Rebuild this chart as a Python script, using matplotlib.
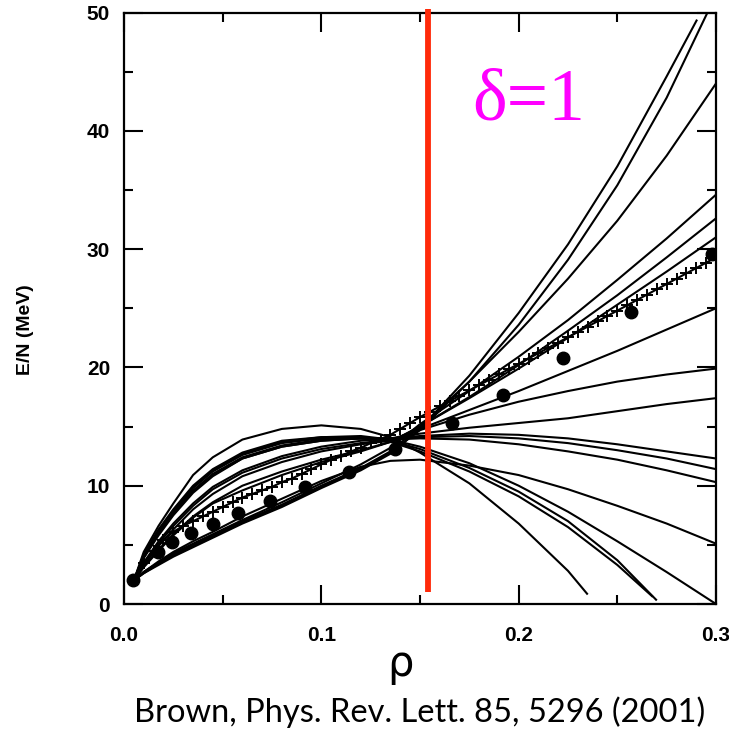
import matplotlib
matplotlib.use('Agg')
import matplotlib.pyplot as plt
import numpy as np

# density grid used for reading the Skyrme curves off the figure
rho_grid = [0.005, 0.01, 0.0175, 0.025, 0.035, 0.045, 0.06, 0.08, 0.10, 0.12,
            0.135, 0.15, 0.175, 0.2, 0.225, 0.25, 0.275, 0.3]
nan = np.nan

# E/N (MeV) of each curve on rho_grid, nan where the curve has already ended
curve_A = [2.0, 2.6, 3.3, 4.0, 4.8, 5.6, 6.8, 8.2, 9.8, 11.3, 12.7, 14.8, 19.3, 24.6, 30.4, 37.0, 44.6, nan]
curve_B = [2.0, 2.6, 3.4, 4.1, 4.9, 5.7, 6.9, 8.3, 9.9, 11.4, 12.8, 14.7, 18.8, 23.6, 29.1, 35.4, 42.8, 51.5]
curve_C = [2.0, 2.7, 3.5, 4.2, 5.0, 5.8, 7.0, 8.4, 10.0, 11.5, 12.9, 15.0, 18.8, 23.0, 27.5, 32.4, 37.9, 44.0]
curve_D = [2.0, 2.7, 3.5, 4.3, 5.1, 5.9, 7.1, 8.6, 10.2, 11.8, 13.2, 15.2, 18.0, 20.9, 24.0, 27.4, 30.9, 34.6]
curve_E = [2.0, 3.1, 4.5, 5.8, 7.3, 8.5, 9.6, 10.9, 12.0, 12.9, 13.7, 15.0, 17.5, 20.2, 23.1, 26.1, 29.3, 32.6]
curve_F = [2.0, 3.2, 4.6, 5.9, 7.4, 8.6, 10.0, 11.2, 12.2, 13.0, 13.7, 15.0, 17.4, 19.9, 22.5, 25.3, 28.1, 31.0]
curve_G = [2.0, 3.3, 4.9, 6.3, 8.0, 9.3, 10.8, 12.0, 12.9, 13.5, 13.8, 14.8, 16.4, 18.0, 19.7, 21.4, 23.2, 25.0]
curve_H = [2.0, 3.4, 5.1, 6.6, 8.3, 9.7, 11.1, 12.3, 13.1, 13.6, 13.9, 14.7, 16.0, 17.1, 18.0, 18.8, 19.4, 19.9]
curve_I = [2.0, 3.5, 5.3, 6.8, 8.5, 9.9, 11.3, 12.5, 13.3, 13.8, 14.0, 14.4, 14.9, 15.3, 15.7, 16.3, 16.9, 17.4]
curve_J = [2.0, 3.9, 5.9, 7.6, 9.5, 10.9, 12.3, 13.3, 13.8, 14.0, 14.0, 14.2, 14.4, 14.3, 14.0, 13.5, 12.9, 12.3]
curve_K = [2.0, 4.0, 6.0, 7.7, 9.6, 11.0, 12.4, 13.4, 13.9, 14.0, 14.0, 14.1, 14.2, 14.0, 13.6, 13.0, 12.3, 11.4]
curve_L = [2.0, 3.9, 5.8, 7.5, 9.4, 10.8, 12.3, 13.3, 13.8, 14.0, 13.9, 14.0, 13.9, 13.5, 12.9, 12.2, 11.3, 10.3]
curve_M = [2.0, 2.7, 3.6, 4.4, 5.3, 6.1, 7.4, 8.9, 10.4, 11.6, 12.1, 12.2, 11.7, 10.9, 9.7, 8.3, 6.8, 5.1]
curve_N = [2.0, 4.1, 6.2, 7.9, 9.9, 11.3, 12.7, 13.7, 14.1, 14.2, 13.9, 13.3, 11.9, 10.0, 7.8, 5.3, 2.7, 0.0]
curve_O = [2.0, 4.2, 6.3, 8.0, 10.0, 11.4, 12.8, 13.8, 14.1, 14.1, 13.8, 13.1, 11.5, 9.5, 7.0, 3.7, nan, nan]
curve_P = [2.0, 4.1, 6.1, 7.8, 9.8, 11.2, 12.6, 13.6, 14.0, 14.0, 13.7, 12.9, 11.2, 9.1, 6.5, 3.3, nan, nan]
curve_Q = [2.0, 4.4, 6.6, 8.5, 10.9, 12.4, 13.9, 14.8, 15.1, 14.8, 14.1, 12.8, 10.2, 6.8, 2.8, nan, nan, nan]

# last point of the curves that stop before rho = 0.3
ends = {'A': (0.2904, 49.4), 'O': (0.270, 0.3), 'P': (0.268, 0.6), 'Q': (0.235, 0.8)}

curves = {'A': curve_A, 'B': curve_B, 'C': curve_C, 'D': curve_D, 'E': curve_E,
          'F': curve_F, 'G': curve_G, 'H': curve_H, 'I': curve_I, 'J': curve_J,
          'K': curve_K, 'L': curve_L, 'M': curve_M, 'N': curve_N, 'O': curve_O,
          'P': curve_P, 'Q': curve_Q}

# line with crosses
cross_rho = [0.005, 0.01, 0.015, 0.02, 0.025, 0.03, 0.035, 0.04, 0.045, 0.05,
             0.055, 0.06, 0.065, 0.07, 0.075, 0.08, 0.085, 0.09, 0.095, 0.10,
             0.105, 0.11, 0.115, 0.12, 0.125, 0.13, 0.135, 0.14, 0.145, 0.15,
             0.155, 0.16, 0.165, 0.17, 0.175, 0.18, 0.185, 0.19, 0.195, 0.20,
             0.205, 0.21, 0.215, 0.22, 0.225, 0.23, 0.235, 0.24, 0.245, 0.25,
             0.255, 0.26, 0.265, 0.27, 0.275, 0.28, 0.285, 0.29, 0.295, 0.30]
cross_E = [2.0, 3.5, 4.5, 5.4, 6.1, 6.6, 7.0, 7.4, 7.8, 8.2,
           8.6, 9.0, 9.3, 9.6, 9.9, 10.3, 10.6, 11.0, 11.4, 11.8,
           12.2, 12.5, 12.9, 13.2, 13.6, 13.9, 14.3, 14.8, 15.3, 15.8,
           16.25, 16.7, 17.15, 17.6, 18.05, 18.5, 18.95, 19.4, 19.85, 20.3,
           20.75, 21.2, 21.65, 22.1, 22.55, 23.0, 23.45, 23.9, 24.35, 24.8,
           25.25, 25.7, 26.15, 26.6, 27.05, 27.5, 27.95, 28.4, 28.85, 29.3]

# filled dots
dot_rho = [0.0044, 0.0174, 0.0242, 0.034, 0.0453, 0.058, 0.074, 0.0917, 0.114,
           0.1375, 0.166, 0.192, 0.2227, 0.257, 0.298]
dot_E = [2.0, 4.4, 5.2, 6.0, 6.8, 7.7, 8.7, 9.9, 11.2, 13.1, 15.3, 17.7, 20.8, 24.7, 29.6]

rho_sat = 0.154
red_line_E = [1.0, 50.3]

W, H = 729, 731
fig = plt.figure(figsize=(W / 100, H / 100), dpi=100)
ax = fig.add_axes([124 / W, 1 - 604 / H, 592 / W, 591.5 / H])

for name, vals in curves.items():
    x = [r for r, v in zip(rho_grid, vals) if not np.isnan(v)]
    y = [v for v in vals if not np.isnan(v)]
    if name in ends:
        x.append(ends[name][0])
        y.append(ends[name][1])
    ax.plot(x, y, color='black', lw=1.5, solid_capstyle='butt')

ax.plot(cross_rho, cross_E, color='black', lw=1.5, marker='+', ms=9, mew=1.4)
ax.plot(dot_rho, dot_E, 'o', color='black', ms=9)

ax.plot([rho_sat, rho_sat], red_line_E, color='#ff2a0a', lw=4.2, clip_on=False,
        solid_capstyle='butt', zorder=5)

ax.set_xlim(0, 0.3)
ax.set_ylim(0, 50)
ax.set_xticks([0, 0.1, 0.2, 0.3])
ax.set_xticklabels(['0.0', '0.1', '0.2', '0.3'])
ax.set_xticks([0.05, 0.15, 0.25], minor=True)
ax.set_yticks([0, 10, 20, 30, 40, 50])
ax.set_yticks([5, 15, 25, 35, 45], minor=True)
ax.tick_params(which='both', direction='in', top=True, right=True, width=1.5)
ax.tick_params(which='major', length=14)
ax.tick_params(which='minor', length=6.5)
ax.tick_params(axis='x', pad=16)
ax.tick_params(axis='y', pad=10)
for lab in ax.get_xticklabels() + ax.get_yticklabels():
    lab.set_fontfamily('Liberation Sans')
    lab.set_fontweight('bold')
    lab.set_fontsize(15)
for s in ax.spines.values():
    s.set_linewidth(1.6)

fig.text(25 / W, 1 - 330 / H, 'E/N (MeV)', rotation=90, ha='center', va='center',
         fontsize=14, fontweight='bold', family='Liberation Sans')
fig.text(400 / W, 1 - 664 / H, 'ρ', ha='center', va='center', fontsize=30,
         family='DejaVu Sans')
fig.text(420 / W, 1 - 712 / H, 'Brown, Phys. Rev. Lett. 85, 5296 (2001)',
         ha='center', va='center', fontsize=23.5, family='Lato')
fig.text(472 / W, 1 - 102 / H, 'δ=1', ha='left', va='center', fontsize=53,
         color='#ff00ff', family='Liberation Serif')

fig.savefig('out.png', dpi=100)
